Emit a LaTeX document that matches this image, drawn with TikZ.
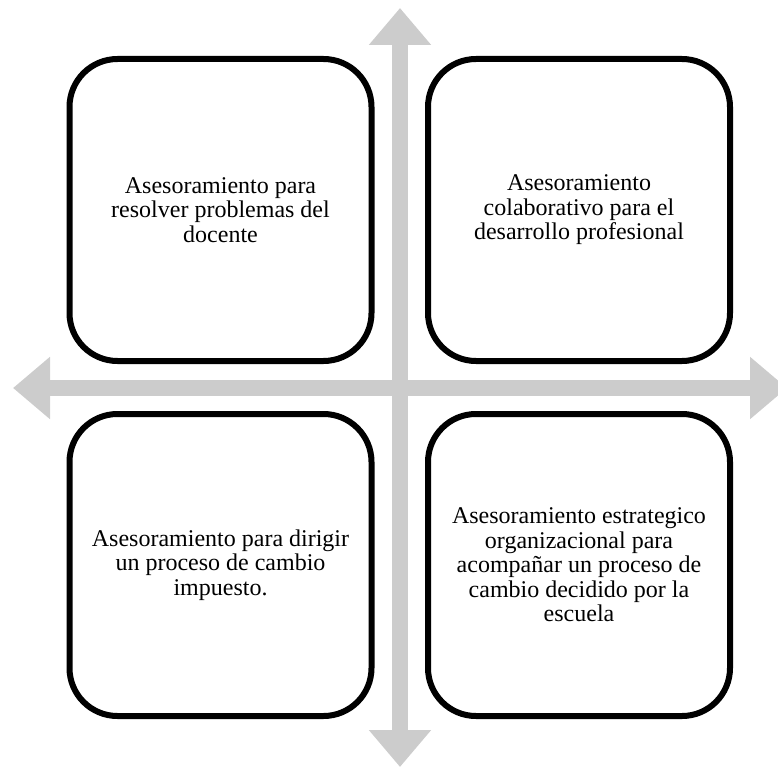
\documentclass[tikz,border=0pt]{standalone}
\usepackage{fontspec}
\setmainfont{Liberation Serif}
\usepackage{tikz}
\usetikzlibrary{arrows.meta}
\definecolor{axisgray}{RGB}{204,204,204}
\tikzstyle{quad} = [draw, rectangle, rounded corners=48pt, line width=6pt,
    minimum width=302pt, minimum height=302pt, align=center,
    font=\fontsize{24pt}{24.5pt}\selectfont]
\tikzstyle{axis} = [draw=axisgray, line width=16pt,
    {Triangle[width=60pt, length=37pt]}-{Triangle[width=60pt, length=37pt]}]

\begin{document}
\begin{tikzpicture}[x=1pt, y=-1pt]
        \useasboundingbox (0, 0) rectangle (778, 767);
        \clip (0, 0) rectangle (778, 767);
        \coordinate (top) at (400, 8);
        \coordinate (bottom) at (400, 767);
        \coordinate (left) at (13, 388);
        \coordinate (right) at (787, 388);

        \draw[axis, fill=axisgray] (left) -- (right);
        \draw[axis, fill=axisgray] (top) -- (bottom);

        \node[quad, name=problems] at (220.5, 210) {Asesoramiento para\\resolver problemas del\\docente};
        \node[quad, name=collab] at (579, 210) {Asesoramiento\\colaborativo para el\\desarrollo profesional};
        \node[quad, name=imposed] at (220.5, 565) {Asesoramiento para dirigir\\un proceso de cambio\\impuesto.};
        \node[quad, name=strategic] at (579, 565) {Asesoramiento estrategico\\organizacional para\\acompañar un proceso de\\cambio decidido por la\\escuela};
    \end{tikzpicture}
\end{document}
